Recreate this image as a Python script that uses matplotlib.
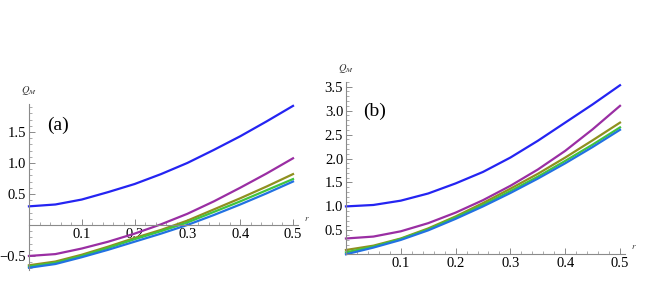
import matplotlib.pyplot as plt
from matplotlib.ticker import MultipleLocator, FixedLocator

plt.rcParams['font.family'] = ['Liberation Serif', 'DejaVu Serif']
plt.rcParams['mathtext.fontset'] = 'stix'

r = [0.0, 0.05, 0.1, 0.15, 0.2, 0.25, 0.3, 0.35, 0.4, 0.45, 0.5]

# panel (a)
a_blue = [0.30, 0.33, 0.41, 0.53, 0.66, 0.82, 1.00, 1.21, 1.43, 1.67, 1.92]
a_purple = [-0.50, -0.47, -0.38, -0.27, -0.14, 0.01, 0.18, 0.38, 0.60, 0.83, 1.075]
a_olive = [-0.65, -0.59, -0.48, -0.35, -0.21, -0.08, 0.07, 0.25, 0.43, 0.62, 0.82]
a_green = [-0.67, -0.61, -0.50, -0.37, -0.23, -0.10, 0.04, 0.21, 0.38, 0.56, 0.74]
a_lblue = [-0.69, -0.63, -0.52, -0.40, -0.27, -0.14, 0.00, 0.16, 0.33, 0.51, 0.70]

# panel (b)
b_blue = [1.00, 1.03, 1.12, 1.27, 1.48, 1.72, 2.02, 2.37, 2.75, 3.13, 3.53]
b_purple = [0.33, 0.37, 0.48, 0.65, 0.87, 1.13, 1.43, 1.77, 2.16, 2.61, 3.10]
b_olive = [0.09, 0.18, 0.33, 0.54, 0.79, 1.07, 1.37, 1.68, 2.02, 2.38, 2.75]
b_green = [0.04, 0.16, 0.32, 0.52, 0.77, 1.03, 1.32, 1.62, 1.95, 2.29, 2.65]
b_lblue = [0.00, 0.14, 0.30, 0.50, 0.74, 1.00, 1.28, 1.58, 1.90, 2.24, 2.60]

colors = ['#2424f2', '#9a2ea3', '#8f901f', '#3fc43f', '#2272e2']

fig = plt.figure(figsize=(6.54, 2.84), dpi=100)
ax1 = fig.add_axes([0.0443, 0.0507, 0.4118, 0.583])
ax2 = fig.add_axes([0.529, 0.1046, 0.4274, 0.607])


def style(ax, ylim, yticks):
    ax.set_xlim(0, 0.51)
    ax.set_ylim(*ylim)
    for s in ['top', 'right']:
        ax.spines[s].set_visible(False)
    ax.spines['bottom'].set_position(('data', 0))
    for s in ['left', 'bottom']:
        ax.spines[s].set_color('#8a8a8a')
        ax.spines[s].set_linewidth(0.8)
    ax.xaxis.set_major_locator(FixedLocator([0.1, 0.2, 0.3, 0.4, 0.5]))
    ax.xaxis.set_minor_locator(MultipleLocator(0.02))
    ax.yaxis.set_major_locator(FixedLocator(yticks))
    ax.yaxis.set_minor_locator(MultipleLocator(0.1))
    ax.tick_params(which='both', direction='in', color='#8a8a8a', labelsize=10.5, pad=2)
    ax.tick_params(which='major', length=4, width=0.7)
    ax.tick_params(which='minor', length=2, width=0.5)
    ax.xaxis.set_major_formatter(plt.FuncFormatter(lambda v, p: '%.1f' % v))
    ax.yaxis.set_major_formatter(plt.FuncFormatter(lambda v, p: ('%.1f' % v).replace('-', '\u2212')))


style(ax1, (-0.72, 1.95), [-0.5, 0.5, 1.0, 1.5])
style(ax2, (0, 3.6), [0.5, 1.0, 1.5, 2.0, 2.5, 3.0, 3.5])

for ys, c in zip([a_blue, a_purple, a_olive, a_green, a_lblue], colors):
    ax1.plot(r, ys, color=c, lw=1.6, clip_on=False)
for ys, c in zip([b_blue, b_purple, b_olive, b_green, b_lblue], colors):
    ax2.plot(r, ys, color=c, lw=1.6, clip_on=False)

for ax in (ax1, ax2):
    ax.annotate(r'$Q_M$', xy=(0, 1), xycoords='axes fraction', xytext=(0, 5),
                textcoords='offset points', fontsize=7.5, ha='center', va='bottom',
                color='#333333')
ax1.text(0.52, 0.03, r'$r$', fontsize=6.5, ha='left', va='bottom', color='#333333')
ax2.text(0.52, 0.06, r'$r$', fontsize=6.5, ha='left', va='bottom', color='#333333')
ax1.text(0.055, 1.6, '(a)', fontsize=14, ha='center', va='center')
ax2.text(0.053, 2.98, '(b)', fontsize=14, ha='center', va='center')

fig.savefig('out.png', dpi=100)
